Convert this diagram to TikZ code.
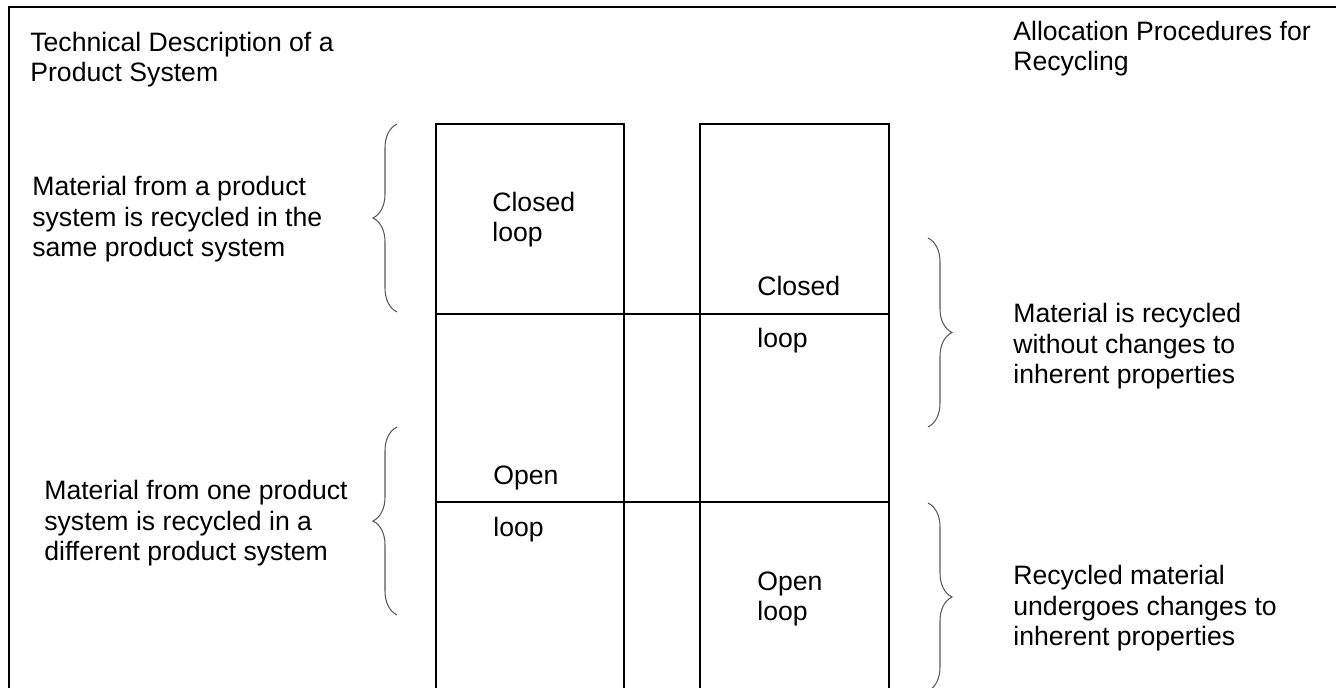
\documentclass[tikz,border=0pt]{standalone}
\usepackage{fontspec}
\setmainfont{Liberation Sans}
\usepackage{tikz}
\usetikzlibrary{positioning,decorations.pathreplacing}
\tikzset{
    frame/.style = {
        draw,
        line width=1.1pt
    },
    cell/.style = {
        draw,
        line width=1.1pt
    },
    curly/.style = {
        draw=black!65,
        line width=0.6pt,
        decorate,
        decoration={brace,amplitude=0.48cm}
    },
    desc/.style = {
        anchor=base west,
        inner sep=0pt,
        align=left,
        font=\fontsize{15.15pt}{17.6pt}\selectfont
    },
}

\begin{document}
\begin{tikzpicture}[x=0.02cm,y=-0.02cm]
            \useasboundingbox (0,0) rectangle (1336,688);

            % outer frame
            \draw[frame] (9,688) -- (9,7) -- (1336,7);

            % the two columns
            \draw[cell] (436,688) -- (436,124) -- (624,124) -- (624,688);
            \draw[cell] (700,688) -- (700,124) -- (889,124) -- (889,688);
            \draw[cell] (436,314) -- (889,314);
            \draw[cell] (436,502) -- (889,502);

            % headings (base = last line)
            \node[desc] (techdesc) at (30,82) {Technical Description of a\\Product System};
            \node[desc] (allocproc) at (1013,71) {Allocation Procedures for\\Recycling};

            % left side
            \node[desc] (samesys) at (32,257) {Material from a product\\system is recycled in the\\same product system};
            \node[desc] (diffsys) at (44,561) {Material from one product\\system is recycled in a\\different product system};

            % right side
            \node[desc] (nochange) at (1013,384) {Material is recycled\\without changes to\\inherent properties};
            \node[desc] (change) at (1013,646) {Recycled material\\undergoes changes to\\inherent properties};

            % texts in the columns
            \node[desc] (closedA) at (492,242) {Closed\\loop};
            \node[desc] (closedB) at (757,296) {Closed};
            \node[desc] (closedBloop) at (757,348) {loop};
            \node[desc] (openA) at (493,485) {Open};
            \node[desc] (openAloop) at (493,537) {loop};
            \node[desc] (openB) at (757,621) {Open\\loop};

            % braces
            \draw[curly] (397,312) -- (397,124);
            \draw[curly] (397,615) -- (397,427);
            \draw[curly] (928,238) -- (928,427);
            \draw[curly] (928,503) -- (928,691);
        \end{tikzpicture}
\end{document}
